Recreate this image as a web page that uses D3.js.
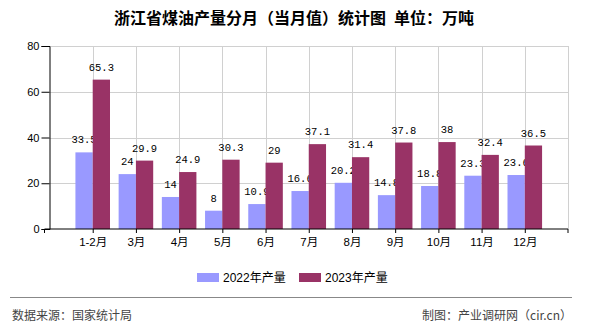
<!DOCTYPE html>
<html><head><meta charset="utf-8">
<script src="https://cdn.jsdelivr.net/npm/d3@7"></script>
<style>
body{margin:0;background:#fff;}
svg{display:block;}
</style></head>
<body>
<svg id="c" width="590" height="330"></svg>
<script>
const categories = ["1-2月","3月","4月","5月","6月","7月","8月","9月","10月","11月","12月"];
const series2022 = [33.5,24,14,8,10.9,16.6,20.2,14.8,18.8,23.3,23.6];
const series2023 = [65.3,29.9,24.9,30.3,29,37.1,31.4,37.8,38,32.4,36.5];
const seriesNames = ["2022年产量","2023年产量"];
const yTicks = [0,20,40,60,80];
const titleText = "浙江省煤油产量分月（当月值）统计图\u2002单位：万吨";
const sourceText = "数据来源：国家统计局";
const creditText = "制图：产业调研网（cir.cn）";

const colors = ["#9999FF","#993366"];
const svg = d3.select("#c");
const L = 49.5, R = 568, T = 46, B = 229;
const sans = "'Liberation Sans', Arial, 'Noto Sans CJK SC', sans-serif";
const cjk = "'Noto Sans CJK SC', 'Liberation Sans', sans-serif";
const mono = "'Liberation Mono', 'DejaVu Sans Mono', monospace";

const x = d3.scalePoint().domain(categories).range([L, R]).padding(1);
const y = d3.scaleLinear().domain([0,80]).range([B, T]);
const bw = x.step()*0.4;

// title
svg.append("text").attr("x",294).attr("y",24).attr("text-anchor","middle")
  .attr("font-family",cjk).attr("font-size",16).attr("font-weight","bold").attr("fill","#000").text(titleText);

// gridlines
svg.append("g").selectAll("line").data(yTicks.filter(d=>d>0)).join("line")
  .attr("x1",L).attr("x2",R).attr("y1",d=>Math.round(y(d))+0.5).attr("y2",d=>Math.round(y(d))+0.5)
  .attr("stroke","#d0d0d0").attr("stroke-width",1);
svg.append("g").selectAll("line").data(categories).join("line")
  .attr("x1",d=>Math.round(x(d))+0.5).attr("x2",d=>Math.round(x(d))+0.5).attr("y1",T).attr("y2",B)
  .attr("stroke","#d0d0d0");
svg.append("line").attr("x1",R+0.5).attr("x2",R+0.5).attr("y1",T).attr("y2",B).attr("stroke","#d0d0d0");

// bars
const data = [series2022, series2023];
data.forEach((s,si)=>{
  const g = svg.append("g");
  g.selectAll("rect").data(s).join("rect")
    .attr("x",(d,i)=>x(categories[i]) - bw + si*bw)
    .attr("width",bw)
    .attr("y",d=>y(d)).attr("height",d=>B-y(d))
    .attr("fill",colors[si]);
  g.selectAll("text").data(s).join("text")
    .attr("x",(d,i)=>x(categories[i]) - bw/2 + si*bw)
    .attr("y",d=>y(d)-9)
    .attr("text-anchor","middle")
    .attr("font-family",mono).attr("font-size",10.5).attr("fill","#000")
    .text(d=>d);
});

// axes
const yAxis = d3.axisLeft(y).tickValues(yTicks).tickSize(8).tickPadding(2).tickFormat(d3.format("d"));
const ya = svg.append("g").attr("transform",`translate(${L},0)`).call(yAxis);
ya.selectAll("text").attr("font-family",sans).attr("font-size",11).attr("fill","#000");
ya.selectAll("line,path").attr("stroke","#000");

const xAxis = d3.axisBottom(x).tickSize(4).tickSizeOuter(4).tickPadding(5);
const xa = svg.append("g").attr("transform",`translate(0,${B})`).call(xAxis);
xa.select("path").attr("d",`M${L-5},4V0H${R}V4`);
xa.selectAll("text").attr("font-family",sans).attr("font-size",11.5).attr("fill","#000");
xa.selectAll("line,path").attr("stroke","#000");

// legend
const leg = svg.append("g");
const lx = [197, 299];
seriesNames.forEach((n,i)=>{
  leg.append("rect").attr("x",lx[i]).attr("y",273).attr("width",22).attr("height",9).attr("fill",colors[i]);
  leg.append("text").attr("x",lx[i]+26).attr("y",282).attr("font-family",sans).attr("font-size",12).attr("fill","#000").text(n);
});

// footer
svg.append("line").attr("x1",10).attr("x2",572).attr("y1",297.5).attr("y2",297.5).attr("stroke","#888");
svg.append("text").attr("x",12).attr("y",320).attr("font-family",cjk).attr("font-size",12).attr("fill","#444").text(sourceText);
svg.append("text").attr("x",572).attr("y",320).attr("text-anchor","end").attr("font-family",cjk).attr("font-size",12).attr("fill","#444").text(creditText);
</script>
</body></html>
